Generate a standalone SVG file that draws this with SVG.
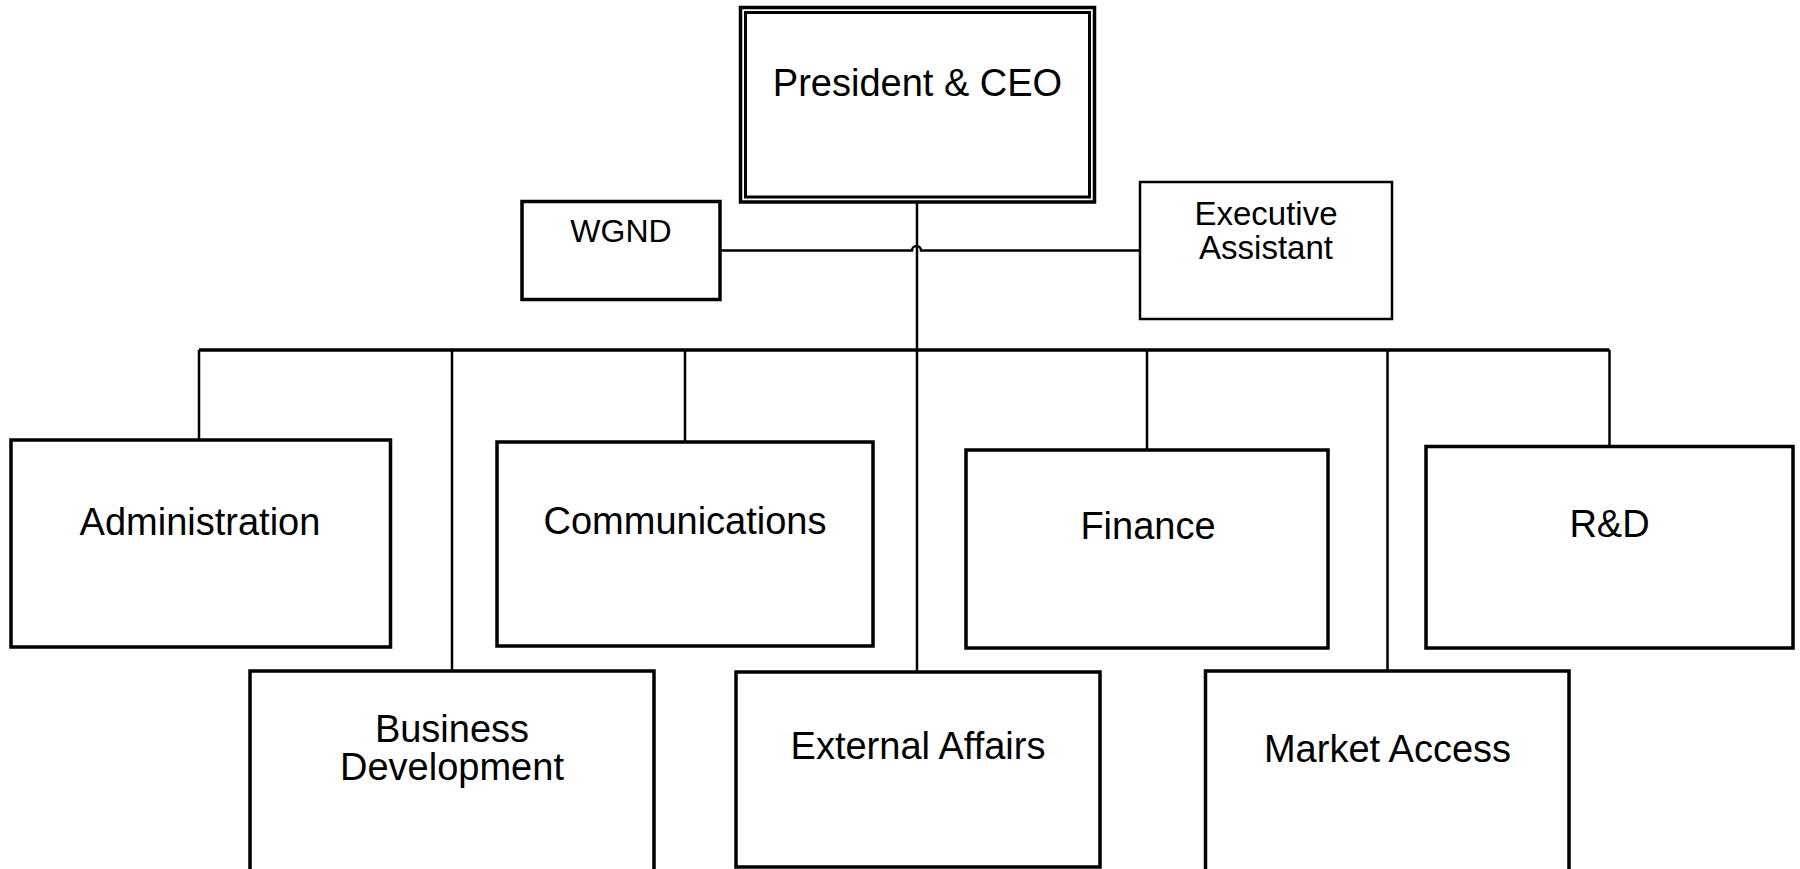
<svg xmlns="http://www.w3.org/2000/svg" width="1800" height="869" viewBox="0 0 1800 869">
<style>
.box{fill:#fff;stroke:#000;stroke-width:3.5}
.thin{fill:#fff;stroke:#000;stroke-width:2.5}
.ln{fill:none;stroke:#000;stroke-width:2.5}
.bus{fill:none;stroke:#000;stroke-width:3.5}
text{font-family:"Liberation Sans",Arial,sans-serif;font-size:38px;fill:#000;text-anchor:middle}
.sm{font-size:32px}
.xs{font-size:33px}
</style>
<rect width="1800" height="869" fill="#fff"/>
<g id="connectors">
<path class="ln" d="M720,250.5 H912 A4.5,4.5 0 0 1 921,250.5 H1140"/>
<path class="ln" d="M917,202 V672"/>
<path class="bus" d="M199,350 H1609.5"/>
<path class="ln" d="M199,350 V440"/>
<path class="ln" d="M452,350 V671"/>
<path class="ln" d="M685,350 V442"/>
<path class="ln" d="M1147,350 V450"/>
<path class="ln" d="M1387.5,350 V671"/>
<path class="ln" d="M1609.5,350 V447"/>
</g>
<g id="ceo">
<rect x="740.5" y="7.5" width="354" height="194.5" fill="#fff" stroke="#000" stroke-width="3.5"/>
<rect x="745.5" y="12.5" width="344" height="184.5" fill="none" stroke="#000" stroke-width="3"/>
<text x="917.5" y="96">President &amp; CEO</text>
</g>
<g id="wgnd">
<rect class="box" x="522" y="201.5" width="198" height="98"/>
<text class="sm" x="621" y="242">WGND</text>
</g>
<g id="exec">
<rect class="thin" x="1140" y="182" width="252" height="137"/>
<text class="xs" x="1266" y="225">Executive</text>
<text class="xs" x="1266" y="259">Assistant</text>
</g>
<g id="admin">
<rect class="box" x="11" y="440" width="379.5" height="207"/>
<text x="200" y="535">Administration</text>
</g>
<g id="comm">
<rect class="box" x="497" y="442" width="376" height="204"/>
<text x="685" y="534">Communications</text>
</g>
<g id="finance">
<rect class="box" x="966" y="450" width="362" height="198"/>
<text x="1148" y="539">Finance</text>
</g>
<g id="rd">
<rect class="box" x="1426" y="446.5" width="367" height="201.5"/>
<text x="1609.5" y="537">R&amp;D</text>
</g>
<g id="bizdev">
<rect class="box" x="250" y="671" width="404" height="215"/>
<text x="452" y="742">Business</text>
<text x="452" y="780">Development</text>
</g>
<g id="external">
<rect class="box" x="736" y="672" width="364" height="195"/>
<text x="918" y="759">External Affairs</text>
</g>
<g id="market">
<rect class="box" x="1205.5" y="671" width="363.5" height="215"/>
<text x="1387.5" y="762">Market Access</text>
</g>
</svg>
